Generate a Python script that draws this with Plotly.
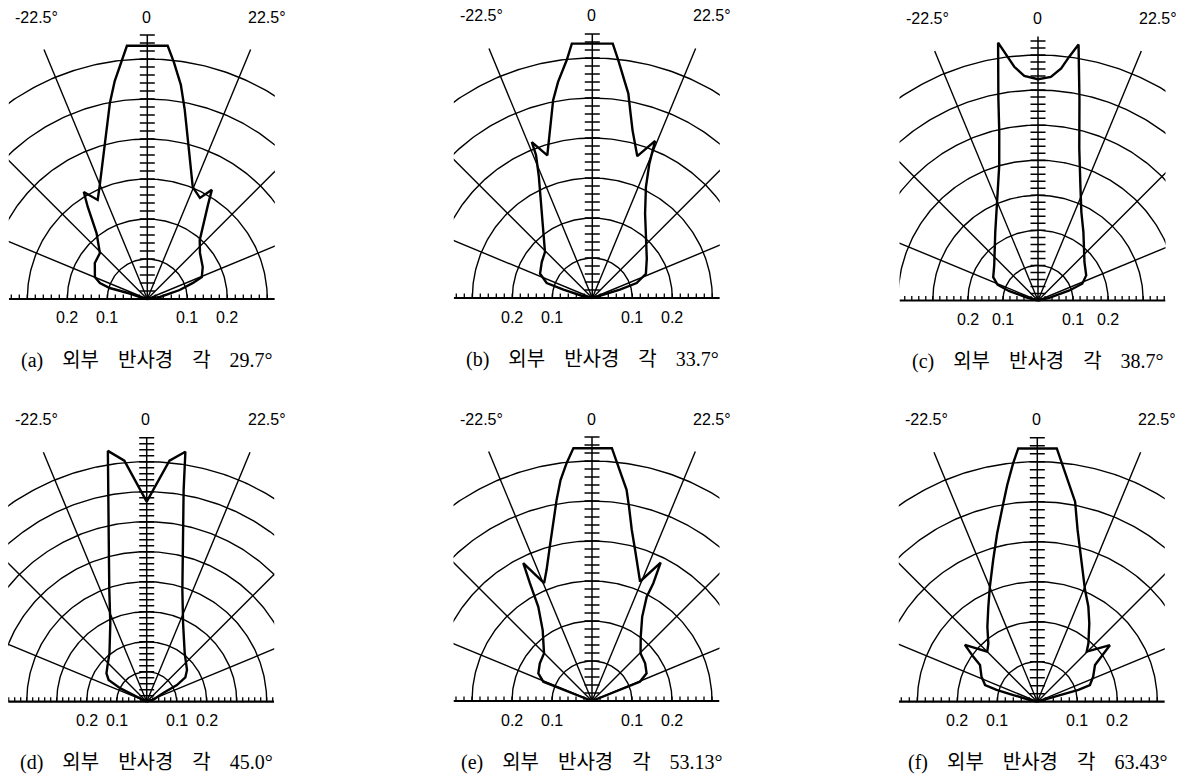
import numpy as np
import plotly.graph_objects as go

# ---- relative luminous-intensity curves -------------------------------------
# angle measured from the optical (vertical) axis in degrees, intensity relative
ang_a = [-75.1, -72.6, -73.7, -71.4, -67.3, -55.6, -45.9, -37.6, -33.8, -32.9, -30.7, -26.6,
         -22.6, -15.6, -10.8, -8.5, -6.2, -4.6,
         4.6, 6.4, 8.9, 11.2, 15.6, 22.1, 27.5, 30.6, 32.8, 37.6, 41.7, 48.8, 60.0, 68.0,
         70.6, 74.5, 80.9]
int_a = [0.019, 0.046, 0.098, 0.125, 0.142, 0.159, 0.165, 0.208, 0.259, 0.274, 0.311, 0.277,
         0.309, 0.395, 0.499, 0.551, 0.596, 0.635,
         0.635, 0.596, 0.542, 0.482, 0.387, 0.302, 0.285, 0.317, 0.280, 0.227, 0.197, 0.175,
         0.160, 0.147, 0.121, 0.084, 0.032]

ang_b = [-77.8, -74.0, -71.8, -65.1, -54.6, -45.8, -35.9, -28.2, -23.8, -21.5, -21.2, -17.5,
         -13.7, -11.2, -9.0, -6.1, -4.6,
         4.6, 6.2, 8.5, 10.0, 11.4, 13.5, 17.6, 21.8, 23.0, 25.8, 32.0, 42.8, 54.2, 65.7,
         71.3, 73.3, 73.4]
int_b = [0.027, 0.075, 0.120, 0.144, 0.155, 0.165, 0.209, 0.268, 0.331, 0.384, 0.418, 0.374,
         0.440, 0.504, 0.547, 0.599, 0.638,
         0.638, 0.599, 0.550, 0.519, 0.479, 0.431, 0.372, 0.423, 0.365, 0.308, 0.249, 0.197,
         0.168, 0.147, 0.117, 0.072, 0.020]

ang_c = [-74.6, -72.0, -68.7, -62.5, -51.3, -32.0, -23.3, -16.0, -12.95, -11.1, -8.8, -7.4,
         -5.8, -3.5, 0.0, 3.3, 5.7, 7.3, 9.0, 11.6, 15.2, 20.2, 26.1, 33.6, 50.4, 62.5, 69.2,
         72.3, 76.6]
int_c = [0.035, 0.086, 0.124, 0.144, 0.160, 0.230, 0.296, 0.401, 0.493, 0.587, 0.744, 0.706,
         0.670, 0.642, 0.631, 0.639, 0.665, 0.701, 0.739, 0.588, 0.449, 0.350, 0.281, 0.234,
         0.172, 0.155, 0.135, 0.094, 0.033]

ang_d = [-62.7, -63.2, -60.3, -54.9, -46.7, -37.7, -24.9, -18.5, -13.2, -10.2, -8.8, -5.3,
         0.0, 5.4, 8.8, 9.9, 12.7, 17.7, 24.9, 38.2, 51.8, 57.9, 61.1, 62.1, 71.8]
int_d = [0.049, 0.098, 0.146, 0.164, 0.179, 0.203, 0.288, 0.393, 0.554, 0.717, 0.846, 0.807,
         0.667, 0.807, 0.843, 0.716, 0.552, 0.391, 0.288, 0.205, 0.171, 0.152, 0.115, 0.064,
         0.025]

ang_e = [-67.3, -68.4, -68.4, -62.7, -54.1, -45.2, -34.8, -29.7, -27.8, -26.5, -22.1, -19.1,
         -15.8, -12.3, -10.0, -8.1, -6.1, -4.2,
         4.5, 5.9, 7.5, 9.3, 10.8, 13.1, 15.9, 19.5, 21.9, 26.4, 27.5, 27.7, 30.8, 37.1, 45.6,
         54.6, 63.1, 68.1, 67.9, 69.2]
int_e = [0.028, 0.086, 0.131, 0.151, 0.161, 0.169, 0.216, 0.271, 0.333, 0.385, 0.318, 0.347,
         0.392, 0.455, 0.510, 0.558, 0.598, 0.634,
         0.634, 0.601, 0.566, 0.535, 0.494, 0.439, 0.393, 0.347, 0.322, 0.386, 0.332, 0.294,
         0.245, 0.202, 0.170, 0.163, 0.153, 0.129, 0.084, 0.030]

ang_f = [-76.9, -74.4, -73.9, -72.3, -65.8, -57.4, -54.9, -51.9, -45.0, -40.1, -33.7, -27.3,
         -22.4, -17.3, -13.4, -10.1, -7.9, -5.8, -4.3,
         4.4, 6.3, 8.8, 10.7, 13.2, 17.8, 23.1, 28.2, 33.6, 41.2, 44.6, 52.1, 55.0, 57.5, 65.9,
         72.4, 74.1, 74.6, 77.5]
int_f = [0.019, 0.062, 0.106, 0.137, 0.153, 0.170, 0.196, 0.230, 0.177, 0.190, 0.225, 0.267,
         0.311, 0.371, 0.433, 0.495, 0.547, 0.599, 0.635,
         0.635, 0.591, 0.544, 0.509, 0.441, 0.363, 0.304, 0.270, 0.235, 0.194, 0.176, 0.230,
         0.196, 0.171, 0.153, 0.138, 0.107, 0.063, 0.020]

# ---- grid description ---------------------------------------------------------
arcs_6 = [0.1, 0.2, 0.3, 0.4, 0.5, 0.6]
arcs_7 = [0.1, 0.2, 0.3, 0.4, 0.5, 0.6, 0.7]
arcs_8 = [0.1, 0.2, 0.3, 0.4, 0.5, 0.6, 0.7, 0.8]
grid_radius = [0.675, 0.675, 0.77, 0.9, 0.675, 0.675]      # length of the angle rays
arc_levels = [arcs_6, arcs_6, arcs_7, arcs_8, arcs_6, arcs_6]
ray_angles = [-67.5, -45.0, -22.5, 22.5, 45.0, 67.5]
tick_step = 0.02

angle_labels = ["-22.5°", "0", "22.5°"]
radial_labels = ["0.2", "0.1", "0.1", "0.2"]
radial_label_values = [-0.2, -0.1, 0.1, 0.2]

captions = [
    "(a) 외부 반사경 각 29.7°",
    "(b) 외부 반사경 각 33.7°",
    "(c) 외부 반사경 각 38.7°",
    "(d) 외부 반사경 각 45.0°",
    "(e) 외부 반사경 각 53.13°",
    "(f) 외부 반사경 각 63.43°",
]
curves = [(ang_a, int_a), (ang_b, int_b), (ang_c, int_c),
          (ang_d, int_d), (ang_e, int_e), (ang_f, int_f)]

# ---- page geometry (pixels) ---------------------------------------------------
W, H = 1184, 775
origins = [(147.3, 299.0), (592.3, 298.0), (1038.0, 300.5),
           (146.7, 701.7), (592.0, 701.0), (1037.3, 701.7)]
BOX_L, BOX_R, BOX_B, BOX_T = 138.5, 127.5, 6.0, 282.0
RAY_PX, AXIS_PX = 270.0, 264.0
TICK_HALF_PX, BASE_TICK_PX = 7.5, 4.5
ANGLE_LABEL_DX = [-110.5, -1.0, 120.0]
ANGLE_LABEL_UP, RADIAL_LABEL_DOWN, CAPTION_DOWN = 282.0, 19.0, 61.0

LINE = "#000000"
SANS = "Liberation Sans, Arial, sans-serif"
SERIF = "Liberation Serif, Noto Sans CJK KR, serif"
GAP = "\u00a0\u00a0\u00a0\u2009"

fig = go.Figure()
annotations = []
layout_axes = {}


def segs(pairs):
    xs, ys = [], []
    for (x0, y0), (x1, y1) in pairs:
        xs += [x0, x1, None]
        ys += [y0, y1, None]
    return xs, ys


def paper(px, py):
    return px / W, (H - py) / H


for i, ((ang, val), R, levels, (cx, cy), cap) in enumerate(
        zip(curves, grid_radius, arc_levels, origins, captions)):
    s = RAY_PX / R                       # pixels per intensity unit
    n = "" if i == 0 else str(i + 1)
    xr, yr = "x" + n, "y" + n
    layout_axes["xaxis" + n] = dict(domain=[(cx - BOX_L) / W, (cx + BOX_R) / W],
                                   range=[-BOX_L / s, BOX_R / s], visible=False,
                                   fixedrange=True, anchor=yr)
    layout_axes["yaxis" + n] = dict(domain=[(H - (cy + BOX_B)) / H, (H - (cy - BOX_T)) / H],
                                   range=[-BOX_B / s, BOX_T / s], visible=False,
                                   fixedrange=True, anchor=xr)

    # iso-intensity arcs
    th = np.radians(np.linspace(-90, 90, 241))
    ax_, ay_ = [], []
    for r in levels:
        ax_ += list(r * np.sin(th)) + [None]
        ay_ += list(r * np.cos(th)) + [None]
    fig.add_trace(go.Scatter(x=ax_, y=ay_, mode="lines", xaxis=xr, yaxis=yr,
                             line=dict(color=LINE, width=1.4), hoverinfo="skip"))

    # angle rays
    rx, ry = segs([((0, 0), (R * np.sin(np.radians(a)), R * np.cos(np.radians(a))))
                   for a in ray_angles])
    fig.add_trace(go.Scatter(x=rx, y=ry, mode="lines", xaxis=xr, yaxis=yr,
                             line=dict(color=LINE, width=1.4), hoverinfo="skip"))

    # baseline with ticks
    xmin, xmax = -BOX_L / s, BOX_R / s
    bt = np.arange(np.ceil(xmin / tick_step) * tick_step, xmax, tick_step)
    bx, by = segs([((t, 0), (t, BASE_TICK_PX / s)) for t in bt])
    fig.add_trace(go.Scatter(x=bx, y=by, mode="lines", xaxis=xr, yaxis=yr,
                             line=dict(color=LINE, width=1.3), hoverinfo="skip"))
    fig.add_trace(go.Scatter(x=[xmin, xmax], y=[0, 0], mode="lines", xaxis=xr, yaxis=yr,
                             line=dict(color=LINE, width=2.2), hoverinfo="skip"))

    # optical axis with ticks
    top = AXIS_PX / s
    vt = np.arange(tick_step, top + 1e-9, tick_step)
    hw = TICK_HALF_PX / s
    vx, vy = segs([((-hw, t), (hw, t)) for t in vt])
    fig.add_trace(go.Scatter(x=vx + [0, 0], y=vy + [0, top], mode="lines",
                             xaxis=xr, yaxis=yr, line=dict(color=LINE, width=1.5),
                             hoverinfo="skip"))

    # intensity curve
    a = np.radians(np.array(ang, dtype=float))
    v = np.array(val, dtype=float)
    cxs = [0.0] + list(v * np.sin(a)) + [0.0]
    cys = [0.0] + list(v * np.cos(a)) + [0.0]
    fig.add_trace(go.Scatter(x=cxs, y=cys, mode="lines", xaxis=xr, yaxis=yr,
                             line=dict(color=LINE, width=2.4), hoverinfo="skip"))

    # angle labels above the grid
    for lab, dx in zip(angle_labels, ANGLE_LABEL_DX):
        px_, py_ = paper(cx + dx, cy - ANGLE_LABEL_UP)
        annotations.append(dict(text=lab, x=px_, y=py_, xref="paper", yref="paper",
                                showarrow=False, xanchor="center", yanchor="middle",
                                font=dict(family=SANS, size=16, color=LINE)))
    # intensity labels under the baseline, placed at their value on the scale
    for lab, xv in zip(radial_labels, radial_label_values):
        px_, py_ = paper(cx + xv * s, cy + RADIAL_LABEL_DOWN)
        annotations.append(dict(text=lab, x=px_, y=py_, xref="paper", yref="paper",
                                showarrow=False, xanchor="center", yanchor="middle",
                                font=dict(family=SANS, size=16, color=LINE)))
    # caption
    px_, py_ = paper(cx, cy + CAPTION_DOWN)
    annotations.append(dict(text=cap.replace(" ", GAP), x=px_, y=py_,
                            xref="paper", yref="paper",
                            showarrow=False, xanchor="center", yanchor="middle",
                            font=dict(family=SERIF, size=20, color=LINE)))

fig.update_layout(width=W, height=H, margin=dict(l=0, r=0, t=0, b=0), autosize=False,
                  paper_bgcolor="white", plot_bgcolor="white", showlegend=False,
                  annotations=annotations, **layout_axes)
fig.write_html("out.html")
